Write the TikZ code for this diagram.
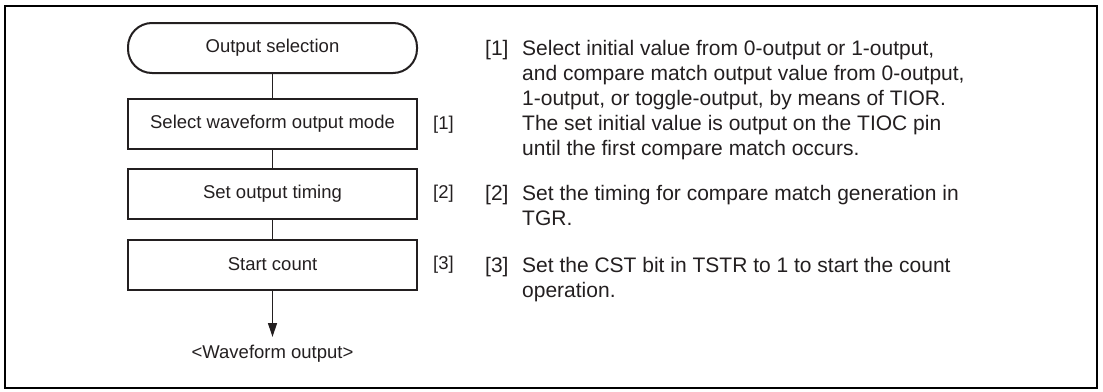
\documentclass[tikz,border=0pt]{standalone}
\usepackage{fontspec}
\setmainfont{Liberation Sans}
\usetikzlibrary{arrows.meta}
\definecolor{ink}{HTML}{231F20}
\tikzset{
  txt/.style={font=\fontsize{18.5}{25}\selectfont, text=ink, inner sep=0pt},
  desc/.style={font=\fontsize{21}{25}\selectfont, text=ink, inner sep=0pt, anchor=base west},
  procbox/.style={draw=ink, line width=2pt, minimum width=289pt, minimum height=50pt, txt},
  termbox/.style={procbox, rounded corners=24pt},
  conn/.style={draw=ink, line width=1.3pt},
  frame/.style={draw=black, line width=2.2pt}
}
\begin{document}
\begin{tikzpicture}[x=1pt,y=-1pt]
\useasboundingbox (0,0) rectangle (1103,391);
\draw[frame] (5,6) rectangle (1097,388);
% flow
\node[termbox] (t0) at (272.5,48) {Output selection};
\node[procbox] (b1) at (272.5,124) {Select waveform output mode};
\node[procbox] (b2) at (272.5,194) {Set output timing};
\node[procbox] (b3) at (272.5,264.5) {Start count};
\coordinate (end) at (272.5,337);
\node[txt] (out) at (272.5,354) {<Waveform output>};
\draw[conn] (t0) -- (b1);
\draw[conn] (b1) -- (b2);
\draw[conn] (b2) -- (b3);
\draw[conn,-{Triangle[length=14pt,width=9pt]}] (b3) -- (end);
% step labels
\node[txt,anchor=west] (l1) at (433,125) {[1]};
\node[txt,anchor=west] (l2) at (433,194) {[2]};
\node[txt,anchor=west] (l3) at (433,265) {[3]};
% descriptions
\node[desc] (d1) at (485,55.5) {\begin{tabular}[t]{@{}p{37pt}@{}l@{}}
[1] & Select initial value from 0-output or 1-output,\\
 & and compare match output value from 0-output,\\
 & 1-output, or toggle-output, by means of TIOR.\\
 & The set initial value is output on the TIOC pin\\
 & until the first compare match occurs.
\end{tabular}};
\node[desc] (d2) at (485,200.5) {\begin{tabular}[t]{@{}p{37pt}@{}l@{}}
[2] & Set the timing for compare match generation in\\
 & TGR.
\end{tabular}};
\node[desc] (d3) at (485,272.5) {\begin{tabular}[t]{@{}p{37pt}@{}l@{}}
[3] & Set the CST bit in TSTR to 1 to start the count\\
 & operation.
\end{tabular}};
\end{tikzpicture}
\end{document}
